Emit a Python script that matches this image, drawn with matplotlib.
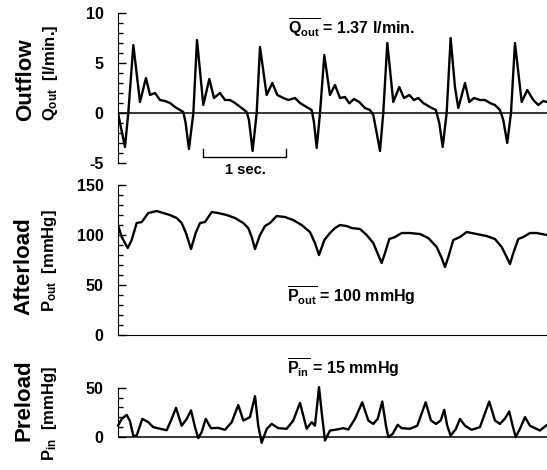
import numpy as np
import matplotlib.pyplot as plt
from matplotlib.ticker import MultipleLocator

plt.rcParams['font.family'] = 'Liberation Sans'
plt.rcParams['font.weight'] = 'bold'
plt.rcParams['axes.unicode_minus'] = False
plt.rcParams['mathtext.fontset'] = 'custom'
for k in ['rm', 'it', 'bf', 'sf']:
    plt.rcParams['mathtext.' + k] = 'Liberation Sans:bold'

# outflow Q_out [l/min] vs time [s]
t_q = [0.000, 0.084, 0.124, 0.185, 0.265, 0.337, 0.386, 0.446, 0.506, 0.566,
       0.627, 0.687, 0.747, 0.787, 0.815, 0.855, 0.908, 0.952, 1.028, 1.100,
       1.157, 1.229, 1.289, 1.349, 1.410, 1.490, 1.550, 1.578, 1.622, 1.671,
       1.711, 1.791, 1.859, 1.920, 1.992, 2.052, 2.133, 2.193, 2.273, 2.333,
       2.361, 2.394, 2.434, 2.486, 2.554, 2.614, 2.675, 2.735, 2.787, 2.843,
       2.907, 2.976, 3.036, 3.076, 3.117, 3.157, 3.196, 3.245, 3.317, 3.389,
       3.446, 3.510, 3.566, 3.618, 3.678, 3.759, 3.831, 3.871, 3.912, 3.960,
       4.008, 4.060, 4.100, 4.181, 4.233, 4.289, 4.361, 4.422, 4.482, 4.542,
       4.602, 4.642, 4.690, 4.735, 4.783, 4.864, 4.931, 5.004, 5.064, 5.124,
       5.169]
q_out = [0.0, -3.4, 0.0, 6.8, 1.1, 3.5, 1.8, 2.0, 1.3, 1.2,
         1.0, 0.6, 0.3, 0.1, -1.0, -3.6, 0.0, 7.3, 0.8, 3.4,
         1.5, 2.0, 1.3, 1.3, 1.0, 0.5, 0.1, -0.7, -3.8, 0.0,
         6.6, 1.8, 3.0, 1.8, 1.5, 1.3, 1.5, 1.0, 0.6, 0.3,
         -0.9, -3.5, 0.0, 5.8, 1.8, 2.8, 1.5, 1.6, 0.97, 1.4,
         1.1, 0.5, 0.3, -0.2, -2.0, -3.8, 0.0, 7.0, 1.1, 2.6,
         1.5, 1.8, 1.3, 1.5, 1.0, 0.6, 0.3, -1.0, -3.4, 0.0,
         7.5, 2.6, 0.5, 3.0, 1.1, 1.5, 1.3, 1.3, 1.0, 0.8,
         0.3, -0.7, -3.0, 0.0, 7.0, 1.1, 2.3, 1.3, 0.8, 1.2,
         1.1]

# afterload P_out [mmHg]
t_pout = [0.000, 0.045, 0.117, 0.165, 0.225, 0.286, 0.365, 0.466, 0.546, 0.627,
          0.707, 0.767, 0.819, 0.880, 0.936, 0.988, 1.048, 1.129, 1.208, 1.310,
          1.410, 1.510, 1.570, 1.611, 1.651, 1.711, 1.771, 1.831, 1.912, 2.012,
          2.112, 2.213, 2.313, 2.373, 2.422, 2.486, 2.554, 2.614, 2.675, 2.755,
          2.816, 2.916, 2.996, 3.076, 3.136, 3.177, 3.217, 3.269, 3.337, 3.418,
          3.518, 3.639, 3.739, 3.840, 3.900, 3.940, 3.980, 4.040, 4.120, 4.201,
          4.322, 4.442, 4.542, 4.623, 4.683, 4.723, 4.763, 4.823, 4.883, 4.964,
          5.045, 5.169]
p_out = [110, 98, 87, 95, 112, 113, 122, 124, 122, 120,
         117, 112, 102, 86, 102, 112, 113, 123, 122, 120,
         117, 112, 107, 98, 86, 100, 109, 112, 119, 118,
         115, 110, 103, 92, 80, 95, 102, 107, 110, 109,
         107, 106, 100, 92, 80, 72, 82, 96, 98, 102,
         102, 101, 97, 88, 77, 68, 78, 95, 98, 103,
         101, 99, 96, 88, 78, 71, 82, 96, 98, 102,
         102, 100]

# preload P_in [mmHg]
t_pin = [0.000, 0.045, 0.105, 0.145, 0.184, 0.225, 0.293, 0.365, 0.425, 0.506,
         0.587, 0.647, 0.699, 0.767, 0.828, 0.880, 0.928, 0.967, 1.008, 1.057,
         1.120, 1.208, 1.289, 1.370, 1.449, 1.510, 1.590, 1.651, 1.690, 1.731,
         1.792, 1.852, 1.931, 2.033, 2.112, 2.193, 2.273, 2.334, 2.373, 2.422,
         2.454, 2.494, 2.554, 2.635, 2.714, 2.775, 2.855, 2.943, 3.016, 3.076,
         3.129, 3.184, 3.229, 3.257, 3.310, 3.370, 3.418, 3.518, 3.606, 3.707,
         3.771, 3.831, 3.888, 3.931, 3.967, 4.008, 4.072, 4.120, 4.181, 4.261,
         4.361, 4.473, 4.542, 4.602, 4.663, 4.714, 4.755, 4.792, 4.843, 4.904,
         4.964, 5.024, 5.084, 5.169]
p_in = [11.1, 18.2, 22.3, 15.8, 0.9, 0.9, 18.2, 14.8, 9.7, 8.0,
        6.5, 18.2, 29.6, 11.1, 18.2, 26.9, 9.7, -1.7, 4.5, 18.2,
        8.6, 8.9, 6.9, 14.7, 32.5, 16.5, 20.0, 41.6, 11.1, -6.5,
        7.9, 13.0, 8.6, 8.0, 16.5, 34.7, 8.0, 14.8, 11.1, 50.9,
        25.1, -4.1, 6.2, 7.2, 8.6, 7.2, 18.2, 35.3, 16.5, 13.0,
        18.2, 36.1, 11.1, -0.6, 2.8, 12.1, 8.6, 8.0, 11.1, 35.3,
        16.5, 13.0, 16.5, 27.5, 11.1, 0.9, 7.9, 18.2, 11.1, 6.9,
        9.7, 36.1, 16.5, 13.0, 18.6, 25.8, 11.1, -0.6, 7.9, 20.0,
        11.1, 8.6, 6.2, 12.0]

t_end = 5.169
scalebar_start = 1.03
scalebar_len = 1.0

fig = plt.figure(figsize=(5.47, 4.70), dpi=100)
ax1 = fig.add_axes([0.2157, 0.6532, 0.7843, 0.3191])
ax2 = fig.add_axes([0.2157, 0.2872, 0.7843, 0.3191])
ax3 = fig.add_axes([0.2157, 0.0506, 0.7843, 0.1238])

line = dict(color='black', lw=1.7, solid_joinstyle='round', solid_capstyle='round')
ax1.plot(t_q, q_out, **line)
ax1.axhline(0, color='black', lw=1.1)
ax1.set_ylim(-5, 10)
ax1.set_yticks([-5, 0, 5, 10])
ax1.yaxis.set_minor_locator(MultipleLocator(1))
ax1.spines['bottom'].set_visible(False)

ax2.plot(t_pout, p_out, **line)
ax2.set_ylim(0, 150)
ax2.set_yticks([0, 50, 100, 150])
ax2.yaxis.set_minor_locator(MultipleLocator(10))

ax3.plot(t_pin, p_in, clip_on=False, **line)
ax3.axhline(0, color='black', lw=1.1)
ax3.set_ylim(-10, 50)
ax3.set_yticks([0, 50])
ax3.set_yticks([10, 20, 30, 40], minor=True)
ax3.spines['left'].set_bounds(0, 50)
ax3.spines['bottom'].set_visible(False)

for ax in (ax1, ax2, ax3):
    ax.set_xlim(0, t_end)
    ax.set_xticks([])
    ax.spines['top'].set_visible(False)
    ax.spines['right'].set_visible(False)
    ax.patch.set_visible(False)
    ax.tick_params(axis='y', which='major', direction='in', length=6,
                   width=1, pad=10.5, labelsize=11.5)
    ax.tick_params(axis='y', which='minor', direction='in', length=3.5, width=1)
    for lab in ax.get_yticklabels():
        lab.set_fontweight('bold')

# 1 sec scale bar
ax1.plot([scalebar_start, scalebar_start, scalebar_start + scalebar_len,
          scalebar_start + scalebar_len], [-3.6, -4.37, -4.37, -3.6],
         color='black', lw=1.0, clip_on=False)
ax1.text(scalebar_start + scalebar_len / 2, -5.75, '1 sec.', ha='center',
         va='center', fontsize=10.5, fontweight='bold', clip_on=False)

# axis titles
big = dict(rotation=90, ha='center', va='center', fontsize=16, fontweight='bold')
small = dict(rotation=90, ha='center', va='center', fontsize=12, fontweight='bold')
fig.text(0.0475, 0.830, 'Outflow', **big)
fig.text(0.0932, 0.845, r'$Q_{out}$  [l/min.]', **small)
fig.text(0.0439, 0.434, 'Afterload', **big)
fig.text(0.0896, 0.445, r'$P_{out}$  [mmHg]', **small)
fig.text(0.0439, 0.149, 'Preload', **big)
fig.text(0.0914, 0.121, r'$P_{in}$  [mmHg]', **small)

ann = dict(ha='left', va='center', fontsize=11.5, fontweight='bold')
fig.text(0.5265, 0.940, r'$\overline{Q_{out}}$ = 1.37 l/min.', **ann)
fig.text(0.5247, 0.372, r'$\overline{P_{out}}$ = 100 mmHg', **ann)
fig.text(0.5247, 0.219, r'$\overline{P_{in}}$ = 15 mmHg', **ann)

fig.savefig('out.png', dpi=100)
